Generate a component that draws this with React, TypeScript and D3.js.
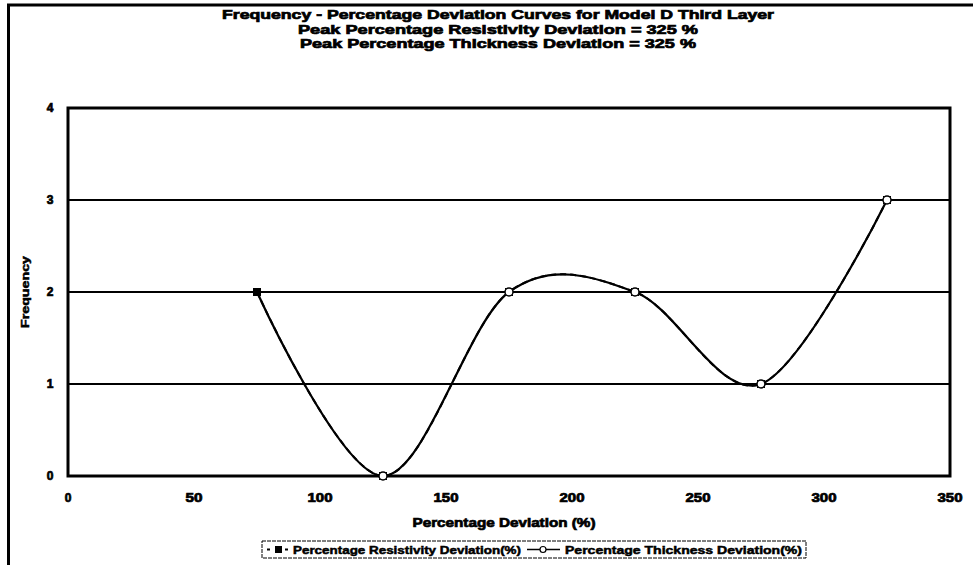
import React from "react";
import * as d3 from "d3";

const xValues = [75, 125, 175, 225, 275, 325];
const resistivity = [2, 0, 2, 2, 1, 3];
const thickness = [2, 0, 2, 2, 1, 3];
const xTicks = [0, 50, 100, 150, 200, 250, 300, 350];
const yTicks = [0, 1, 2, 3, 4];
const titleLines = [
  "Frequency - Percentage Deviation  Curves for Model D Third Layer",
  "Peak Percentage Resistivity Deviation = 325 %",
  "Peak Percentage Thickness Deviation = 325 %",
];
const titleWidths = [552, 400, 396];
const legendLabels = ["Percentage Resistivity Deviation(%)", "Percentage Thickness Deviation(%)"];

const W = 973;
const H = 565;
const m = { left: 68, right: 950, top: 108, bottom: 476 };
const font = "'Liberation Sans', Arial, sans-serif";

export default function App() {
  const x = d3.scaleLinear().domain([0, 350]).range([m.left, m.right]);
  const y = d3.scaleLinear().domain([0, 4]).range([m.bottom, m.top]);
  const line = d3
    .line<number>()
    .x((_, i) => x(xValues[i]))
    .y((d) => y(d))
    .curve(d3.curveCardinal.tension(0));

  const heavy = { fontFamily: font, fontWeight: 700, stroke: "#000", strokeWidth: 0.7, fill: "#000" } as const;

  return (
    <svg width={W} height={H} style={{ position: "absolute", left: 0, top: 0, background: "#fff" }}>
      <rect x={0} y={0} width={W} height={H} fill="#fff" />
      {/* outer frame */}
      <line x1={8.5} y1={5} x2={8.5} y2={H} stroke="#000" strokeWidth={3} />
      <line x1={7} y1={5} x2={W} y2={5} stroke="#000" strokeWidth={3} />

      {/* title */}
      {titleLines.map((t, i) => (
        <text
          key={i}
          x={498}
          y={19 + i * 14.5}
          textAnchor="middle"
          fontSize={12.5}
          textLength={titleWidths[i]}
          lengthAdjust="spacingAndGlyphs"
          {...heavy}
        >
          {t}
        </text>
      ))}

      {/* gridlines */}
      {yTicks.slice(1, 4).map((t) => (
        <line key={t} x1={m.left} x2={m.right} y1={y(t)} y2={y(t)} stroke="#000" strokeWidth={2.2} />
      ))}

      {/* plot frame */}
      <rect x={m.left} y={m.top} width={m.right - m.left} height={m.bottom - m.top} fill="none" stroke="#000" strokeWidth={3} />

      {/* y tick labels */}
      {yTicks.map((t) => (
        <text key={t} x={50} y={y(t) + 4} textAnchor="middle" fontSize={12} {...heavy}>
          {t}
        </text>
      ))}
      {/* x tick labels */}
      {xTicks.map((t) => (
        <text key={t} x={x(t)} y={502} textAnchor="middle" fontSize={12} {...heavy} textLength={t === 0 ? undefined : t < 100 ? 17 : 25} lengthAdjust="spacingAndGlyphs">
          {t}
        </text>
      ))}

      {/* axis titles */}
      <text x={504} y={527} textAnchor="middle" fontSize={12.5} textLength={183} lengthAdjust="spacingAndGlyphs" {...heavy}>
        Percentage Deviation (%)
      </text>
      <text
        transform={`translate(29,${292}) rotate(-90)`}
        textAnchor="middle"
        fontSize={10}
        textLength={72}
        lengthAdjust="spacingAndGlyphs"
        {...heavy}
        strokeWidth={0.5}
      >
        Frequency
      </text>

      {/* resistivity series (dashed, filled squares) */}
      <path d={line(resistivity) || ""} fill="none" stroke="#000" strokeWidth={2} strokeDasharray="6,4" />
      {resistivity.map((v, i) => (
        <rect key={i} x={x(xValues[i]) - 4} y={y(v) - 4} width={8} height={8} fill="#000" />
      ))}

      {/* thickness series (solid, open circles) */}
      <path d={line(thickness) || ""} fill="none" stroke="#000" strokeWidth={2.2} />
      {thickness.map((v, i) =>
        i === 0 ? null : (
          <circle key={i} cx={x(xValues[i])} cy={y(v)} r={4} fill="#fff" stroke="#000" strokeWidth={1.5} />
        )
      )}

      {/* legend */}
      <rect x={262} y={541} width={544} height={17} fill="#fff" stroke="#000" strokeWidth={1} strokeDasharray="4,1" />
      <line x1={267} x2={290} y1={549.5} y2={549.5} stroke="#000" strokeWidth={2} strokeDasharray="3,6" />
      <rect x={275} y={546} width={7} height={7} fill="#000" />
      <text x={293} y={554} fontSize={11} textLength={228} lengthAdjust="spacingAndGlyphs" {...heavy} strokeWidth={0.5}>
        {legendLabels[0]}
      </text>
      <line x1={527} x2={560} y1={549.5} y2={549.5} stroke="#000" strokeWidth={1.5} />
      <circle cx={543} cy={549.5} r={3} fill="#fff" stroke="#000" strokeWidth={1.2} />
      <text x={565} y={554} fontSize={11} textLength={237} lengthAdjust="spacingAndGlyphs" {...heavy} strokeWidth={0.5}>
        {legendLabels[1]}
      </text>
    </svg>
  );
}
